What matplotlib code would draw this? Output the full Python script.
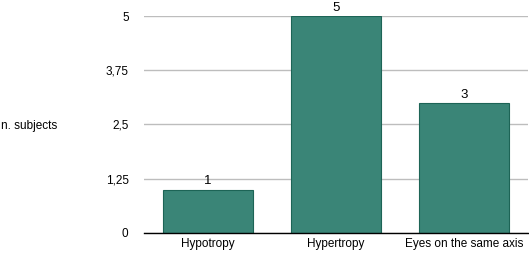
import matplotlib.pyplot as plt

categories = ['Hypotropy', 'Hypertropy', 'Eyes on the same axis']
subjects = [1, 5, 3]
tick_values = [0, 1.25, 2.5, 3.75, 5]
tick_labels = ['0', '1,25', '2,5', '3,75', '5']

plt.rcParams['font.family'] = ['Liberation Sans', 'DejaVu Sans']

fig = plt.figure(figsize=(5.29, 2.54), dpi=100)
ax = fig.add_axes([0.272, 0.083, 0.726, 0.854])

x = range(len(categories))
bars = ax.bar(x, subjects, width=0.7, color='#3a8577', edgecolor='#1d6456', linewidth=0.8, zorder=3)
for b, v in zip(bars, subjects):
    ax.text(b.get_x() + b.get_width() / 2, v + 0.05, str(v), ha='center', va='bottom', fontsize=9.5, zorder=4)

ax.set_xlim(-0.5, 2.5)
ax.set_ylim(0, 5)
ax.set_xticks(list(x))
ax.set_xticklabels(categories, fontsize=8.5)
ax.set_yticks(tick_values)
ax.set_yticklabels(tick_labels, fontsize=8.5)
ax.tick_params(length=0, pad=11, axis='y')
ax.tick_params(length=0, pad=4, axis='x')
ax.grid(axis='y', color='#bdbdbd', linewidth=1, zorder=0)

for s in ['top', 'right', 'left']:
    ax.spines[s].set_visible(False)
ax.spines['bottom'].set_color('black')
ax.spines['bottom'].set_linewidth(1)
ax.spines['bottom'].set_zorder(5)

fig.text(0.002, 0.505, 'n. subjects', fontsize=8.5, ha='left', va='center')

fig.savefig('out.png', dpi=100)
